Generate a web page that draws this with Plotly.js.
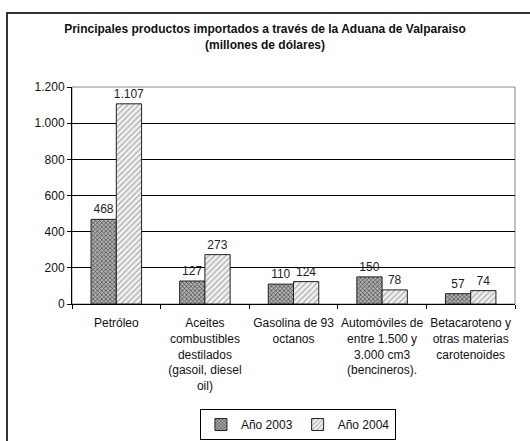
<!DOCTYPE html>
<html><head><meta charset="utf-8">
<script src="https://cdn.plot.ly/plotly-3.0.1.min.js"></script>
<style>html,body{margin:0;padding:0;background:#fff;}#chart{width:530px;height:441px;}</style>
</head><body><div id="chart"></div>
<script>
const categories = ["Petróleo", "Aceites<br>combustibles<br>destilados<br>(gasoil, diesel<br>oil)", "Gasolina de 93<br>octanos", "Automóviles de<br>entre 1.500 y<br>3.000 cm3<br>(bencineros).", "Betacaroteno y<br>otras materias<br>carotenoides"];
const values2003 = [468, 127, 110, 150, 57];
const values2004 = [1107, 273, 124, 78, 74];
const seriesNames = ["Año 2003", "Año 2004"];
const yTicks = [0, 200, 400, 600, 800, 1000, 1200];

const font = "Liberation Sans, Arial, sans-serif";
const traces = [
  {type:'bar', name:seriesNames[0], x:categories, y:values2003,
   texttemplate:'%{y:,}', textposition:'outside', cliponaxis:false, constraintext:'none',
   textfont:{size:12, color:'#222', family:font},
   marker:{color:'#9a9a9a', line:{color:'#222', width:1},
     pattern:{shape:'x', fgcolor:'#444', bgcolor:'#b0b0b0', size:3, solidity:0.4}}},
  {type:'bar', name:seriesNames[1], x:categories, y:values2004,
   texttemplate:'%{y:,}', textposition:'outside', cliponaxis:false, constraintext:'none',
   textfont:{size:12, color:'#222', family:font},
   marker:{color:'#ddd', line:{color:'#222', width:1},
     pattern:{shape:'/', fgcolor:'#aaa', bgcolor:'#f2f2f2', size:4, solidity:0.3}}}
];
const layout = {
  width:530, height:441, separators:',.',
  margin:{l:72, r:15, t:87, b:137, autoexpand:false},
  paper_bgcolor:'#fff', plot_bgcolor:'#fff',
  font:{family:font, size:12, color:'#111'},
  title:{text:'<b>Principales productos importados a través de la Aduana de Valparaiso</b><br><b>(millones de dólares)</b>',
    font:{size:12, family:font, color:'#111'}, x:0.5, xref:'container', y:0.925, yref:'container', yanchor:'top'},
  barmode:'group', bargap:0.43, bargroupgap:0,
  xaxis:{type:'category', showline:true, linecolor:'#000', linewidth:1, ticks:'outside', ticklen:4, tickcolor:'#000',
    tickson:'boundaries', tickangle:0, automargin:false, ticklabelstandoff:8, showgrid:false,
    tickfont:{size:12, family:font, color:'#111'}, fixedrange:true},
  yaxis:{range:[0,1200], tickvals:yTicks, tickformat:',d', showline:true, linecolor:'#000', linewidth:1,
    ticks:'outside', ticklen:4, tickcolor:'#000', showgrid:true, gridcolor:'#000', gridwidth:1, automargin:false,
    zeroline:false, tickfont:{size:12, family:font, color:'#111'}, fixedrange:true},
  showlegend:true,
  legend:{orientation:'h', x:0.51, xanchor:'center', y:-0.484, yanchor:'top', bordercolor:'#000', borderwidth:1,
    font:{size:12, family:font, color:'#111'}, itemwidth:30, tracegroupgap:0},
  shapes:[
    {type:'rect', xref:'paper', yref:'paper', x0:0, x1:1, y0:0, y1:1, line:{color:'#888', width:1}, layer:'below'},
    {type:'rect', xref:'paper', yref:'paper', x0:-0.1467, x1:1.06, y0:-0.7, y1:1.341, line:{color:'#333', width:2}, layer:'below'}
  ]
};
Plotly.newPlot('chart', traces, layout, {displayModeBar:false, staticPlot:true});
</script></body></html>
